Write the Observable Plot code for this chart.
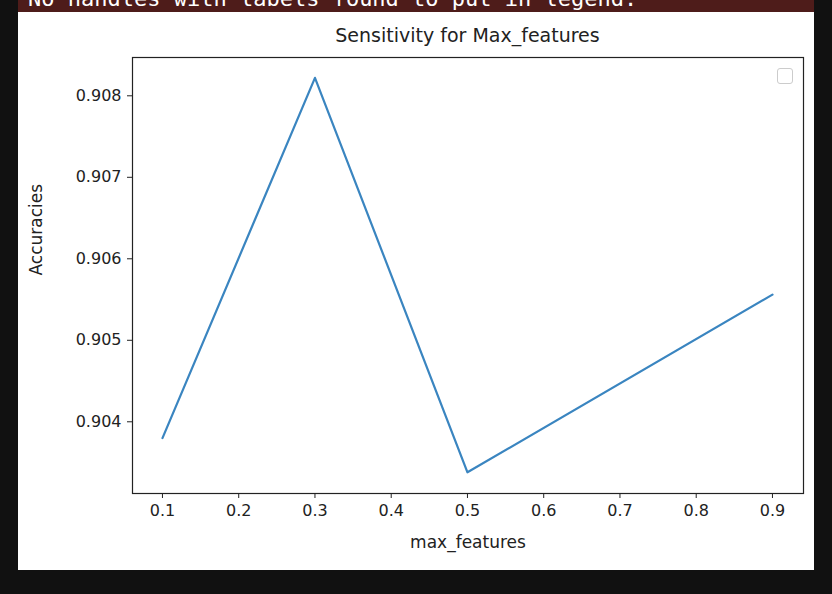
<!DOCTYPE html>
<html>
<head>
<meta charset="utf-8">
<script src="https://cdn.jsdelivr.net/npm/d3@7"></script>
<script src="https://cdn.jsdelivr.net/npm/@observablehq/plot@0.6"></script>
<style>
  body { margin: 0; background: #111; width: 832px; height: 594px; overflow: hidden; font-family: "DejaVu Sans", sans-serif; }
  #warn { position: absolute; left: 18px; top: 0; width: 796px; height: 12px; background: #4e1c1a; overflow: hidden; }
  #warn span { position: absolute; left: 10px; top: -14px; color: #fff; font: 22px "DejaVu Sans Mono", monospace; white-space: pre; }
  #panel { position: absolute; left: 18px; top: 12px; width: 796px; height: 558px; background: #fff; }
  #panel svg { position: absolute; left: 0; top: 0; }
  #title { position: absolute; left: 114px; width: 671px; top: 12px; text-align: center; font-size: 19px; color: #222; }
  #legend { position: absolute; left: 759px; top: 56px; width: 14px; height: 14px; border: 1.5px solid #ccc; border-radius: 3px; }
</style>
</head>
<body>
<div id="warn"><span>No handles with labels found to put in legend.</span></div>
<div id="panel"><div id="title">Sensitivity for Max_features</div></div>
<script>
const maxFeatures = [0.1, 0.3, 0.5, 0.9];
const accuracies = [0.90380, 0.90822, 0.90338, 0.90556];
const xTicks = [0.1, 0.2, 0.3, 0.4, 0.5, 0.6, 0.7, 0.8, 0.9];
const yTicks = [0.904, 0.905, 0.906, 0.907, 0.908];

const data = maxFeatures.map((x, i) => ({ x, y: accuracies[i] }));

const chart = Plot.plot({
  width: 796,
  height: 558,
  marginLeft: 114,
  marginRight: 11,
  marginTop: 45,
  marginBottom: 77,
  style: { background: "transparent", fontFamily: "DejaVu Sans, sans-serif", fontSize: "16px", color: "#222" },
  x: { domain: [0.0607, 0.9407], label: null },
  y: { domain: [0.90312, 0.90847], label: null },
  marks: [
    Plot.frame({ stroke: "#222", strokeWidth: 1.2 }),
    Plot.axisX({ ticks: xTicks, tickFormat: d3.format(".1f"), tickSize: 5, tickPadding: 6, label: null }),
    Plot.axisY({ ticks: yTicks, tickFormat: d3.format(".3f"), tickSize: 5, tickPadding: 6, label: null }),
    Plot.line(data, { x: "x", y: "y", stroke: "#3a85c0", strokeWidth: 2.2 }),
    Plot.text(["max_features"], { frameAnchor: "bottom", dy: 54, fontSize: 17, fill: "#222" }),
    Plot.text(["Accuracies"], { frameAnchor: "left", dx: -96, rotate: -90, fontSize: 17, fill: "#222" })
  ]
});
const panel = document.getElementById("panel");
panel.appendChild(chart);
const leg = document.createElement("div");
leg.id = "legend";
panel.appendChild(leg);
</script>
</body>
</html>
